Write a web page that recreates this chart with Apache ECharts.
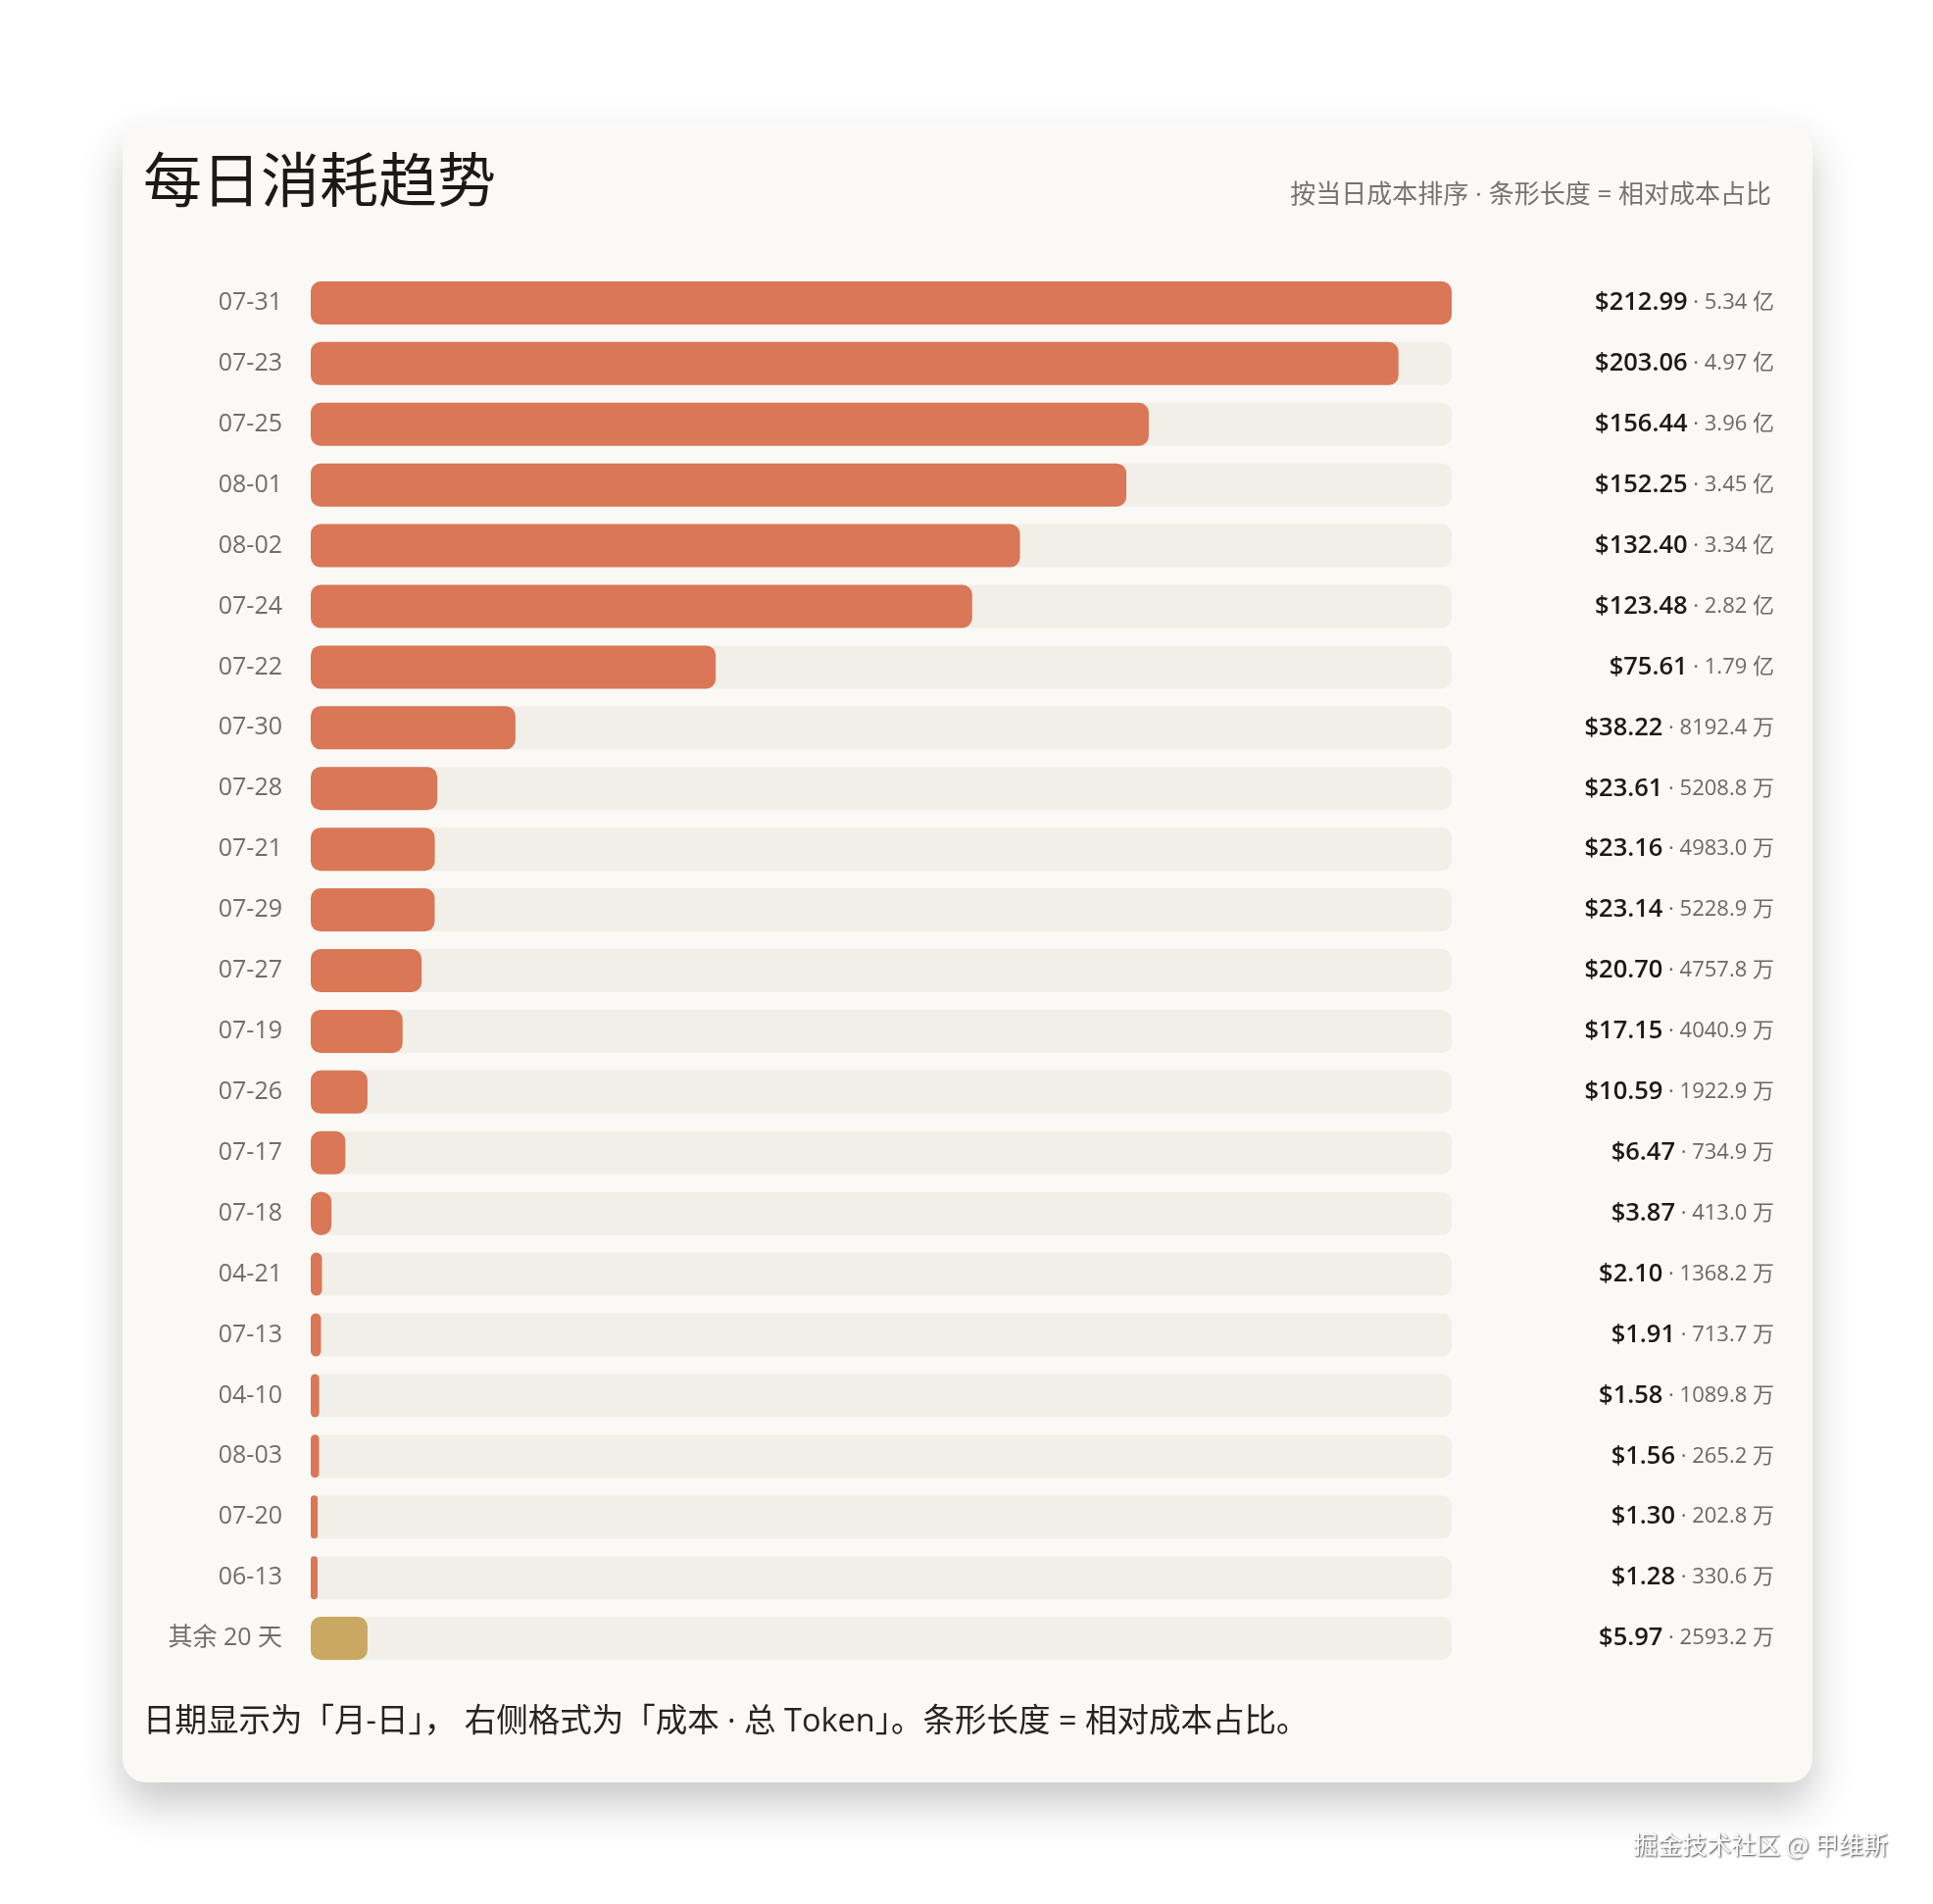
<!DOCTYPE html>
<html lang="zh">

<head>
    <meta charset="UTF-8">
    <title>每日消耗趋势</title>
    <script src="https://cdnjs.cloudflare.com/ajax/libs/echarts/6.0.0/echarts.min.js"></script>
    <style>
        html, body {
            margin: 0;
            padding: 0;
            background: #ffffff;
        }
        #card {
            position: absolute;
            left: 125px;
            top: 125px;
            width: 1724px;
            height: 1693px;
            border-radius: 24px;
            background: #faf9f5;
            box-shadow: 0 22px 44px rgba(0, 0, 0, 0.22);
        }
        #echart {
            position: absolute;
            left: 0;
            top: 0;
            width: 1972px;
            height: 1942px;
        }
    </style>
</head>

<body>
    <div id="card"></div>
    <div id="echart"></div>

    <script>
        // 日期（已按当日成本排序）
        const days = ['07-31', '07-23', '07-25', '08-01', '08-02', '07-24', '07-22', '07-30', '07-28', '07-21',
            '07-29', '07-27', '07-19', '07-26', '07-17', '07-18', '04-21', '07-13', '04-10', '08-03',
            '07-20', '06-13', '其余 20 天'];
        // 成本（美元）
        const costs = [212.99, 203.06, 156.44, 152.25, 132.40, 123.48, 75.61, 38.22, 23.61, 23.16,
            23.14, 20.70, 17.15, 10.59, 6.47, 3.87, 2.10, 1.91, 1.58, 1.56,
            1.30, 1.28, 5.97];
        // 总 Token
        const tokens = ['5.34 亿', '4.97 亿', '3.96 亿', '3.45 亿', '3.34 亿', '2.82 亿', '1.79 亿', '8192.4 万',
            '5208.8 万', '4983.0 万', '5228.9 万', '4757.8 万', '4040.9 万', '1922.9 万', '734.9 万',
            '413.0 万', '1368.2 万', '713.7 万', '1089.8 万', '265.2 万', '202.8 万', '330.6 万', '2593.2 万'];
        // 条形长度（图上读出，“其余”那条比它的成本画得长）
        const barLen = costs.slice(0, -1).concat([10.6]);

        const font = '"Open Sans", "Noto Sans CJK SC", sans-serif';
        const cjk = '"Noto Sans CJK SC", sans-serif';
        const myChart = echarts.init(document.querySelector('#echart'));

        const option = {
            backgroundColor: 'transparent',
            animation: false,
            title: [
                {
                    text: '每日消耗趋势',
                    left: 141,
                    top: 148,
                    textStyle: { fontFamily: cjk, fontSize: 60, fontWeight: 'normal', color: '#1b1a18' }
                },
                {
                    text: '按当日成本排序 · 条形长度 = 相对成本占比',
                    right: 160,
                    top: 182,
                    textStyle: { fontFamily: font, fontSize: 26, fontWeight: 'normal', color: '#76746e' }
                },
                {
                    text: '日期显示为「月-日」， 右侧格式为「成本 · 总 Token」。条形长度 = 相对成本占比。',
                    left: 141,
                    top: 1735,
                    textStyle: { fontFamily: font, fontSize: 32.5, fontWeight: 'normal', color: '#26241f' }
                }
            ],
            graphic: [
                {
                    type: 'text',
                    right: 46,
                    top: 1869,
                    style: {
                        text: '掘金技术社区 @ 甲维斯',
                        font: '25px ' + cjk,
                        fill: '#ffffff',
                        textShadowColor: 'rgba(0,0,0,0.75)',
                        textShadowBlur: 2,
                        textShadowOffsetX: 1,
                        textShadowOffsetY: 1
                    }
                }
            ],
            grid: {
                left: 317,
                right: 491,
                top: 278,
                height: 1424,
                containLabel: false
            },
            xAxis: {
                type: 'value',
                min: 0,
                max: costs[0],
                show: false
            },
            yAxis: [
                {
                    type: 'category',
                    data: days,
                    inverse: true,
                    axisLine: { show: false },
                    axisTick: { show: false },
                    axisLabel: {
                        margin: 29,
                        fontFamily: font,
                        fontSize: 25,
                        color: '#706e68'
                    }
                },
                {
                    type: 'category',
                    data: days,
                    inverse: true,
                    position: 'right',
                    axisLine: { show: false },
                    axisTick: { show: false },
                    axisLabel: {
                        margin: 329,
                        align: 'right',
                        formatter: (v, i) => `{c|$${costs[i].toFixed(2)}}{t| · ${tokens[i]}}`,
                        rich: {
                            c: { fontFamily: font, fontSize: 25.5, fontWeight: 600, color: '#1b1a18' },
                            t: { fontFamily: font, fontSize: 22, color: '#6c6a64' }
                        }
                    }
                }
            ],
            series: [
                {
                    type: 'bar',
                    barWidth: 44,
                    showBackground: true,
                    backgroundStyle: { color: '#f1efe8', borderRadius: 10 },
                    itemStyle: { borderRadius: 10, color: '#d97757' },
                    data: barLen.map((v, i) => i === barLen.length - 1
                        ? { value: v, itemStyle: { color: '#c8a862' } }
                        : v)
                }
            ]
        };
        myChart.setOption(option);
    </script>
</body>

</html>
